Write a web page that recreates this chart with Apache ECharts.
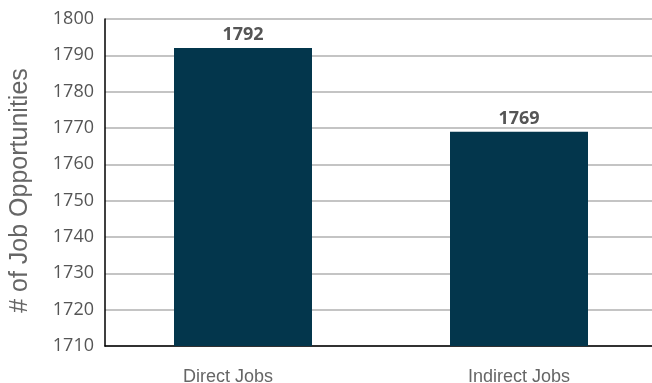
<!DOCTYPE html>
<html>
<head>
<meta charset="utf-8">
<script src="https://cdn.jsdelivr.net/npm/echarts@6/dist/echarts.min.js"></script>
<style>
  html, body { margin: 0; padding: 0; background: #fff; }
  #chart { width: 652px; height: 383px; }
</style>
</head>
<body>
<div id="chart"></div>
<script>
const categories = ['Direct Jobs', 'Indirect Jobs'];
const jobValues = [1792, 1769];
const yMin = 1710, yMax = 1800, yStep = 10;

const chart = echarts.init(document.getElementById('chart'));

chart.setOption({
  animation: false,
  grid: { left: 105, top: 19, width: 552, bottom: 37, outerBoundsMode: 'none', containLabel: false },
  xAxis: {
    type: 'category',
    data: categories,
    axisLine: { lineStyle: { color: '#000', width: 1.5 } },
    axisTick: { show: false },
    axisLabel: {
      color: '#666',
      fontSize: 18,
      fontFamily: 'Liberation Sans',
      margin: 22,
      // the first label sits a little left of its bar in the original
      formatter: (v, i) => i === 0 ? '{first|' + v + '}' : v,
      rich: {
        first: { color: '#666', fontSize: 18, fontFamily: 'Liberation Sans', padding: [0, 30, 0, 0] }
      }
    }
  },
  yAxis: {
    type: 'value',
    min: yMin,
    max: yMax,
    interval: yStep,
    name: '# of Job Opportunities',
    nameLocation: 'middle',
    nameGap: 72,
    nameTextStyle: {
      color: '#666',
      fontSize: 25,
      fontFamily: 'Liberation Sans',
      padding: [0, 16, 0, 0]
    },
    axisLine: { show: true, lineStyle: { color: '#000', width: 1.5 } },
    axisTick: { show: false },
    axisLabel: {
      color: '#555',
      fontSize: 18,
      fontFamily: 'Open Sans',
      margin: 11,
      formatter: v => String(v)
    },
    splitLine: { lineStyle: { color: '#b0b0b0', width: 1.5 } }
  },
  series: [{
    type: 'bar',
    data: jobValues,
    barWidth: '50%',
    itemStyle: { color: '#03364c' },
    label: {
      show: true,
      position: 'top',
      distance: 4,
      color: '#555',
      fontSize: 18,
      fontWeight: 'bold',
      fontFamily: 'Open Sans'
    }
  }]
});
</script>
</body>
</html>
